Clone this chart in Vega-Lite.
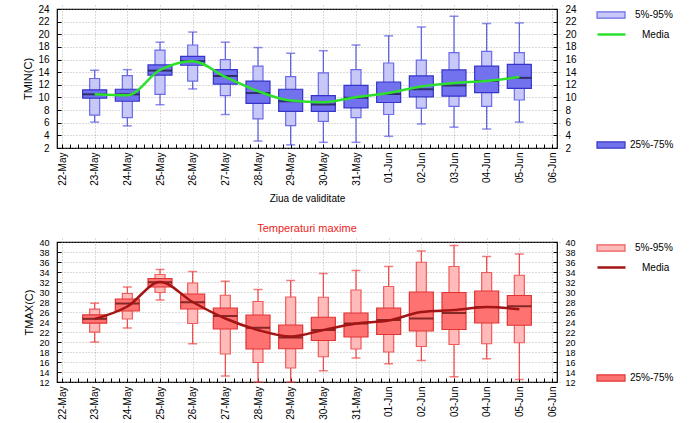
{
  "$schema": "https://vega.github.io/schema/vega-lite/v6.json",
  "padding": {"left": 22, "top": 3, "right": 5, "bottom": 0},
  "config": {
    "font": "Liberation Sans",
    "view": {"stroke": "#000", "strokeWidth": 1.2},
    "axis": {"labelFont": "Liberation Sans", "labelFontSize": 10, "labelColor": "#000", "titleFont": "Liberation Sans", "titleFontSize": 11, "titleFontWeight": "normal", "titleColor": "#000", "domain": false, "tickColor": "#000", "tickWidth": 1, "tickSize": 4, "offset": -4, "gridColor": "#999", "gridDash": [1, 2], "gridWidth": 0.7},
    "legend": {"padding": 0, "offset": 0, "labelFont": "Liberation Sans", "labelFontSize": 10, "labelColor": "#000"}
  },
  "datasets": {
    "tmin": [
      {"date": "2015-05-23", "min": 6.1, "p5": 7.2, "p25": 9.9, "med": 10.5, "p75": 11.2, "p95": 13.0, "max": 14.3, "mean": 10.5},
      {"date": "2015-05-24", "min": 5.5, "p5": 6.8, "p25": 9.4, "med": 10.5, "p75": 11.3, "p95": 13.45, "max": 14.4, "mean": 10.35},
      {"date": "2015-05-25", "min": 8.85, "p5": 10.5, "p25": 13.55, "med": 14.25, "p75": 15.15, "p95": 17.5, "max": 18.75, "mean": 14.35},
      {"date": "2015-05-26", "min": 11.35, "p5": 12.6, "p25": 15.1, "med": 15.75, "p75": 16.5, "p95": 18.3, "max": 20.35, "mean": 15.75},
      {"date": "2015-05-27", "min": 7.3, "p5": 10.3, "p25": 12.1, "med": 13.4, "p75": 14.4, "p95": 16.0, "max": 18.75, "mean": 13.25},
      {"date": "2015-05-28", "min": 3.1, "p5": 6.6, "p25": 9.05, "med": 10.7, "p75": 12.6, "p95": 14.95, "max": 17.9, "mean": 11.0},
      {"date": "2015-05-29", "min": 2.5, "p5": 5.55, "p25": 7.8, "med": 9.4, "p75": 11.3, "p95": 13.3, "max": 17.0, "mean": 9.5},
      {"date": "2015-05-30", "min": 2.9, "p5": 6.2, "p25": 7.8, "med": 8.9, "p75": 10.3, "p95": 13.9, "max": 17.4, "mean": 9.25},
      {"date": "2015-05-31", "min": 2.9, "p5": 6.8, "p25": 8.35, "med": 9.95, "p75": 11.9, "p95": 14.4, "max": 18.3, "mean": 10.05},
      {"date": "2015-06-01", "min": 3.85, "p5": 7.3, "p25": 9.2, "med": 10.55, "p75": 12.45, "p95": 15.45, "max": 19.75, "mean": 10.7},
      {"date": "2015-06-02", "min": 5.8, "p5": 8.3, "p25": 10.1, "med": 11.3, "p75": 13.4, "p95": 15.9, "max": 21.15, "mean": 11.75},
      {"date": "2015-06-03", "min": 5.3, "p5": 8.6, "p25": 10.2, "med": 11.9, "p75": 14.35, "p95": 17.1, "max": 22.85, "mean": 12.3},
      {"date": "2015-06-04", "min": 5.0, "p5": 8.6, "p25": 10.75, "med": 12.6, "p75": 14.95, "p95": 17.3, "max": 21.7, "mean": 12.6},
      {"date": "2015-06-05", "min": 6.1, "p5": 9.6, "p25": 11.45, "med": 13.1, "p75": 15.25, "p95": 17.1, "max": 21.8, "mean": 13.25}
    ],
    "tmax": [
      {"date": "2015-05-23", "min": 19.98, "p5": 21.97, "p25": 23.77, "med": 24.63, "p75": 25.43, "p95": 26.56, "max": 27.76, "mean": 24.6},
      {"date": "2015-05-24", "min": 22.8, "p5": 24.6, "p25": 26.2, "med": 27.7, "p75": 28.6, "p95": 29.7, "max": 31.0, "mean": 27.1},
      {"date": "2015-05-25", "min": 28.4, "p5": 29.9, "p25": 31.0, "med": 31.95, "p75": 32.7, "p95": 33.5, "max": 34.5, "mean": 32.0},
      {"date": "2015-05-26", "min": 19.65, "p5": 23.7, "p25": 26.6, "med": 27.95, "p75": 29.6, "p95": 31.8, "max": 34.1, "mean": 28.0},
      {"date": "2015-05-27", "min": 13.2, "p5": 17.6, "p25": 22.6, "med": 25.2, "p75": 26.8, "p95": 29.35, "max": 32.15, "mean": 24.7},
      {"date": "2015-05-28", "min": 12.0, "p5": 15.9, "p25": 18.6, "med": 22.85, "p75": 25.4, "p95": 28.1, "max": 30.5, "mean": 22.4},
      {"date": "2015-05-29", "min": 12.0, "p5": 14.8, "p25": 18.65, "med": 20.9, "p75": 23.4, "p95": 29.0, "max": 32.3, "mean": 21.1},
      {"date": "2015-05-30", "min": 14.25, "p5": 17.05, "p25": 20.3, "med": 22.4, "p75": 24.95, "p95": 28.95, "max": 33.7, "mean": 22.4},
      {"date": "2015-05-31", "min": 16.8, "p5": 18.6, "p25": 21.0, "med": 23.7, "p75": 25.8, "p95": 30.4, "max": 34.3, "mean": 23.7},
      {"date": "2015-06-01", "min": 15.65, "p5": 18.0, "p25": 21.5, "med": 24.4, "p75": 26.8, "p95": 31.1, "max": 35.1, "mean": 24.3},
      {"date": "2015-06-02", "min": 16.3, "p5": 19.1, "p25": 22.2, "med": 24.7, "p75": 30.0, "p95": 35.95, "max": 38.2, "mean": 26.0},
      {"date": "2015-06-03", "min": 13.05, "p5": 19.5, "p25": 22.5, "med": 25.8, "p75": 29.9, "p95": 35.1, "max": 39.3, "mean": 26.4},
      {"date": "2015-06-04", "min": 16.65, "p5": 19.65, "p25": 23.8, "med": 27.0, "p75": 30.2, "p95": 33.9, "max": 37.1, "mean": 27.0},
      {"date": "2015-06-05", "min": 12.5, "p5": 19.85, "p25": 23.35, "med": 27.15, "p75": 29.3, "p95": 33.35, "max": 37.6, "mean": 26.55}
    ]
  },
  "spacing": 18,
  "resolve": {
    "scale": {"fill": "independent", "color": "independent", "stroke": "independent"},
    "legend": {"fill": "independent", "color": "independent", "stroke": "independent"}
  },
  "vconcat": [
    {
      "width": 500,
      "height": 139,
      "data": {"name": "tmin"},
      "encoding": {
        "x": {
          "field": "date", "type": "temporal",
          "scale": {"type": "utc", "domain": [1432252800000, 1433548800000]},
          "axis": {
            "title": "Ziua de validitate", "titleFontSize": 10, "titlePadding": 8,
            "values": [1432252800000, 1432274400000, 1432296000000, 1432317600000, 1432339200000, 1432360800000, 1432382400000, 1432404000000, 1432425600000, 1432447200000, 1432468800000, 1432490400000, 1432512000000, 1432533600000, 1432555200000, 1432576800000, 1432598400000, 1432620000000, 1432641600000, 1432663200000, 1432684800000, 1432706400000, 1432728000000, 1432749600000, 1432771200000, 1432792800000, 1432814400000, 1432836000000, 1432857600000, 1432879200000, 1432900800000, 1432922400000, 1432944000000, 1432965600000, 1432987200000, 1433008800000, 1433030400000, 1433052000000, 1433073600000, 1433095200000, 1433116800000, 1433138400000, 1433160000000, 1433181600000, 1433203200000, 1433224800000, 1433246400000, 1433268000000, 1433289600000, 1433311200000, 1433332800000, 1433354400000, 1433376000000, 1433397600000, 1433419200000, 1433440800000, 1433462400000, 1433484000000, 1433505600000, 1433527200000, 1433548800000],
            "labelExpr": "utchours(datum.value) == 0 ? utcFormat(datum.value, '%d-%b') : ''",
            "gridOpacity": {"condition": {"test": "utchours(datum.value) == 0", "value": 1}, "value": 0},
            "labelAngle": -90, "labelOverlap": false, "labelFlush": false, "labelPadding": 4
          }
        }
      },
      "layer": [
        {
          "mark": {"type": "rule", "color": "#5a5ae0", "strokeWidth": 1.2},
          "encoding": {
            "y": {"field": "min", "type": "quantitative", "scale": {"domain": [2, 24], "nice": false, "zero": false},
              "axis": {"orient": "left", "values": [2, 4, 6, 8, 10, 12, 14, 16, 18, 20, 22, 24], "grid": true, "labelOverlap": false, "labelPadding": 8, "title": "TMIN(C)", "titlePadding": 4}},
            "y2": {"field": "max"}
          }
        },
        {
          "mark": {"type": "tick", "orient": "horizontal", "color": "#5a5ae0", "size": 9, "thickness": 1.5},
          "encoding": {
            "y": {"field": "min", "type": "quantitative", "scale": {"domain": [2, 24], "nice": false, "zero": false},
              "axis": {"orient": "right", "values": [2, 4, 6, 8, 10, 12, 14, 16, 18, 20, 22, 24], "grid": false, "labelOverlap": false, "labelPadding": 8, "title": null}}
          }
        },
        {
          "mark": {"type": "tick", "orient": "horizontal", "color": "#5a5ae0", "size": 9, "thickness": 1.5},
          "encoding": {"y": {"field": "max", "type": "quantitative", "scale": {"domain": [2, 24], "nice": false, "zero": false}, "axis": null}}
        },
        {
          "mark": {"type": "bar", "width": 10, "stroke": "#6a6ae8", "strokeWidth": 1.2},
          "encoding": {
            "y": {"field": "p5", "type": "quantitative", "scale": {"domain": [2, 24], "nice": false, "zero": false}, "axis": null},
            "y2": {"field": "p95"},
            "fill": {"datum": "5%-95%", "type": "nominal", "scale": {"domain": ["5%-95%"], "range": ["#c8c8f8"]},
              "legend": {"orient": "none", "legendX": 546, "legendY": -2, "title": null, "symbolType": "M-2,-0.44H2V0.44H-2Z", "symbolSize": 196, "symbolStrokeColor": "#6a6ae8", "symbolStrokeWidth": 1.2, "labelOffset": 16}}
          }
        },
        {
          "mark": {"type": "bar", "width": 24, "stroke": "#3434c8", "strokeWidth": 1.2},
          "encoding": {
            "y": {"field": "p25", "type": "quantitative", "scale": {"domain": [2, 24], "nice": false, "zero": false}, "axis": null},
            "y2": {"field": "p75"},
            "color": {"datum": "25%-75%", "type": "nominal", "scale": {"domain": ["25%-75%"], "range": ["#7272ee"]},
              "legend": {"orient": "none", "legendX": 546, "legendY": 128, "title": null, "symbolType": "M-2,-0.44H2V0.44H-2Z", "symbolSize": 196, "symbolStrokeColor": "#3434c8", "symbolStrokeWidth": 1.2, "labelOffset": 11}}
          }
        },
        {
          "mark": {"type": "tick", "orient": "horizontal", "color": "#141430", "size": 24, "thickness": 2},
          "encoding": {"y": {"field": "med", "type": "quantitative", "scale": {"domain": [2, 24], "nice": false, "zero": false}, "axis": null}}
        },
        {
          "mark": {"type": "line", "interpolate": "monotone", "strokeWidth": 2.5},
          "encoding": {
            "y": {"field": "mean", "type": "quantitative", "scale": {"domain": [2, 24], "nice": false, "zero": false}, "axis": null},
            "stroke": {"datum": "Media", "type": "nominal", "scale": {"domain": ["Media"], "range": ["#2ee02e"]},
              "legend": {"orient": "none", "legendX": 546, "legendY": 17, "title": null, "symbolType": "M-2,0H2", "symbolSize": 196, "symbolStrokeWidth": 2.5, "labelOffset": 22}}
          }
        }
      ]
    },
    {
      "width": 500,
      "height": 140,
      "data": {"name": "tmax"},
      "title": {"text": "Temperaturi maxime", "color": "#ee1c1c", "fontSize": 11, "fontWeight": "normal", "font": "Liberation Sans", "offset": 4, "anchor": "middle"},
      "encoding": {
        "x": {
          "field": "date", "type": "temporal",
          "scale": {"type": "utc", "domain": [1432252800000, 1433548800000]},
          "axis": {
            "title": null,
            "values": [1432252800000, 1432274400000, 1432296000000, 1432317600000, 1432339200000, 1432360800000, 1432382400000, 1432404000000, 1432425600000, 1432447200000, 1432468800000, 1432490400000, 1432512000000, 1432533600000, 1432555200000, 1432576800000, 1432598400000, 1432620000000, 1432641600000, 1432663200000, 1432684800000, 1432706400000, 1432728000000, 1432749600000, 1432771200000, 1432792800000, 1432814400000, 1432836000000, 1432857600000, 1432879200000, 1432900800000, 1432922400000, 1432944000000, 1432965600000, 1432987200000, 1433008800000, 1433030400000, 1433052000000, 1433073600000, 1433095200000, 1433116800000, 1433138400000, 1433160000000, 1433181600000, 1433203200000, 1433224800000, 1433246400000, 1433268000000, 1433289600000, 1433311200000, 1433332800000, 1433354400000, 1433376000000, 1433397600000, 1433419200000, 1433440800000, 1433462400000, 1433484000000, 1433505600000, 1433527200000, 1433548800000],
            "labelExpr": "utchours(datum.value) == 0 ? utcFormat(datum.value, '%d-%b') : ''",
            "gridOpacity": {"condition": {"test": "utchours(datum.value) == 0", "value": 1}, "value": 0},
            "labelAngle": -90, "labelOverlap": false, "labelFlush": false, "labelPadding": 4
          }
        }
      },
      "layer": [
        {
          "mark": {"type": "rule", "color": "#ee4444", "strokeWidth": 1.2},
          "encoding": {
            "y": {"field": "min", "type": "quantitative", "scale": {"domain": [12, 40], "nice": false, "zero": false},
              "axis": {"orient": "left", "values": [12, 14, 16, 18, 20, 22, 24, 26, 28, 30, 32, 34, 36, 38, 40], "grid": true, "labelOverlap": false, "labelFontSize": 9, "labelPadding": 8, "title": "TMAX(C)", "titlePadding": 4}},
            "y2": {"field": "max"}
          }
        },
        {
          "mark": {"type": "tick", "orient": "horizontal", "color": "#ee4444", "size": 9, "thickness": 1.5},
          "encoding": {
            "y": {"field": "min", "type": "quantitative", "scale": {"domain": [12, 40], "nice": false, "zero": false},
              "axis": {"orient": "right", "values": [12, 14, 16, 18, 20, 22, 24, 26, 28, 30, 32, 34, 36, 38, 40], "grid": false, "labelOverlap": false, "labelFontSize": 9, "labelPadding": 8, "title": null}}
          }
        },
        {
          "mark": {"type": "tick", "orient": "horizontal", "color": "#ee4444", "size": 9, "thickness": 1.5},
          "encoding": {"y": {"field": "max", "type": "quantitative", "scale": {"domain": [12, 40], "nice": false, "zero": false}, "axis": null}}
        },
        {
          "mark": {"type": "bar", "width": 10, "stroke": "#f05a5a", "strokeWidth": 1.2},
          "encoding": {
            "y": {"field": "p5", "type": "quantitative", "scale": {"domain": [12, 40], "nice": false, "zero": false}, "axis": null},
            "y2": {"field": "p95"},
            "fill": {"datum": "5%-95%", "type": "nominal", "scale": {"domain": ["5%-95%"], "range": ["#ffbaba"]},
              "legend": {"orient": "none", "legendX": 546, "legendY": -2, "title": null, "symbolType": "M-2,-0.44H2V0.44H-2Z", "symbolSize": 196, "symbolStrokeColor": "#f05a5a", "symbolStrokeWidth": 1.2, "labelOffset": 16}}
          }
        },
        {
          "mark": {"type": "bar", "width": 24, "stroke": "#e03434", "strokeWidth": 1.2},
          "encoding": {
            "y": {"field": "p25", "type": "quantitative", "scale": {"domain": [12, 40], "nice": false, "zero": false}, "axis": null},
            "y2": {"field": "p75"},
            "color": {"datum": "25%-75%", "type": "nominal", "scale": {"domain": ["25%-75%"], "range": ["#ff7272"]},
              "legend": {"orient": "none", "legendX": 546, "legendY": 128, "title": null, "symbolType": "M-2,-0.44H2V0.44H-2Z", "symbolSize": 196, "symbolStrokeColor": "#e03434", "symbolStrokeWidth": 1.2, "labelOffset": 11}}
          }
        },
        {
          "mark": {"type": "tick", "orient": "horizontal", "color": "#500808", "size": 24, "thickness": 2},
          "encoding": {"y": {"field": "med", "type": "quantitative", "scale": {"domain": [12, 40], "nice": false, "zero": false}, "axis": null}}
        },
        {
          "mark": {"type": "line", "interpolate": "monotone", "strokeWidth": 2.5},
          "encoding": {
            "y": {"field": "mean", "type": "quantitative", "scale": {"domain": [12, 40], "nice": false, "zero": false}, "axis": null},
            "stroke": {"datum": "Media", "type": "nominal", "scale": {"domain": ["Media"], "range": ["#a31414"]},
              "legend": {"orient": "none", "legendX": 546, "legendY": 17, "title": null, "symbolType": "M-2,0H2", "symbolSize": 196, "symbolStrokeWidth": 2.5, "labelOffset": 22}}
          }
        }
      ]
    }
  ]
}
